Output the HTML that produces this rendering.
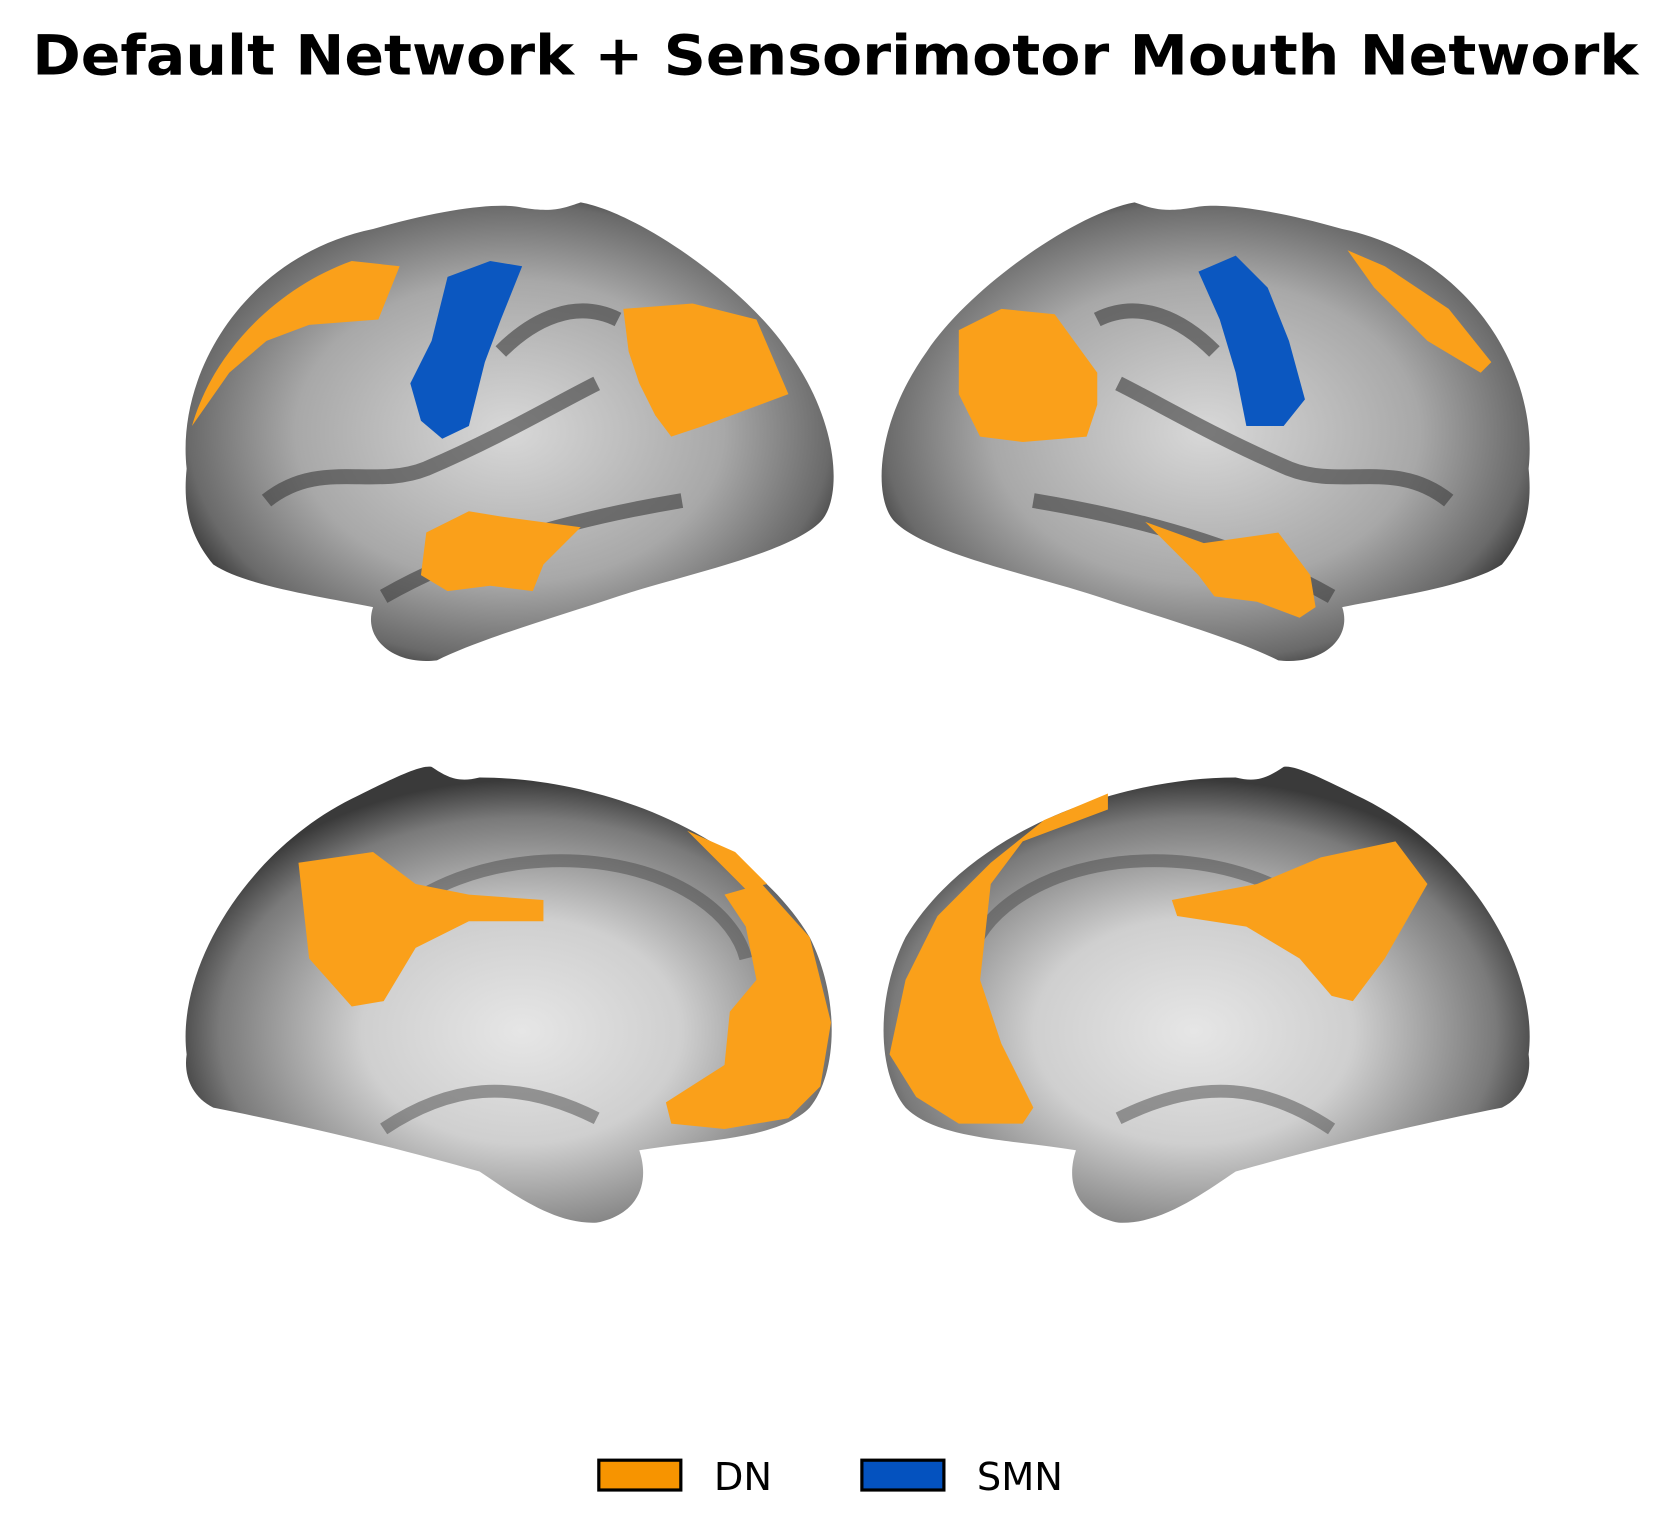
<!DOCTYPE html>
<html><head><meta charset="utf-8"><style>
html,body{margin:0;padding:0;background:#fff;}
svg{display:block;}
</style></head><body>
<svg width="1662" height="1539" viewBox="0 0 1560 1445" xmlns="http://www.w3.org/2000/svg">
<defs>
<radialGradient id="g1" cx="50%" cy="50%" r="55%">
<stop offset="0" stop-color="#d8d8d8"/><stop offset="0.6" stop-color="#a8a8a8"/><stop offset="0.9" stop-color="#6a6a6a"/><stop offset="1" stop-color="#3a3a3a"/>
</radialGradient>
<radialGradient id="g2" cx="52%" cy="58%" r="55%">
<stop offset="0" stop-color="#e6e6e6"/><stop offset="0.45" stop-color="#cfcfcf"/><stop offset="0.85" stop-color="#7a7a7a"/><stop offset="1" stop-color="#3a3a3a"/>
</radialGradient>
</defs>
<text x="30" y="70" textLength="1508" lengthAdjust="spacingAndGlyphs" font-family="DejaVu Sans, Liberation Sans, sans-serif" font-weight="bold" font-size="52">Default Network + Sensorimotor Mouth Network</text>

<g>
<path id="latL" d="M175,440 C165,350 230,240 350,215 C420,195 470,190 490,195 C520,200 530,195 545,190 C600,200 700,270 740,330 C790,400 790,470 770,490 C740,520 640,540 580,560 C520,580 450,600 410,620 C370,625 340,600 350,570 C300,560 230,550 200,530 C175,500 172,470 175,440 Z" fill="url(#g1)"/>
<path d="M250,470 C300,430 350,460 400,440 C470,410 520,380 560,360 M360,560 C430,520 520,490 640,470 M470,330 C500,300 540,280 580,300" stroke="#3a3a3a" stroke-width="14" fill="none" opacity="0.6"/>
<path d="M180,400 C200,330 260,270 330,245 L375,250 L355,300 L290,305 L250,320 L215,350 Z" fill="#faa01a"/>
<path d="M420,260 L460,245 L490,250 L470,300 L455,340 L440,400 L415,412 L395,395 L385,360 L405,320 Z" fill="#0b57c0"/>
<path d="M585,290 L650,285 L710,300 L740,370 L700,385 L660,400 L630,410 L615,390 L600,360 L590,330 Z" fill="#faa01a"/>
<path d="M400,500 L440,480 L470,485 L545,495 L510,530 L500,555 L460,550 L420,555 L395,540 Z" fill="#faa01a"/>
</g>

<g>
<use href="#latL" transform="translate(1610,0) scale(-1,1)"/>
<path d="M1360,470 C1310,430 1260,460 1210,440 C1140,410 1090,380 1050,360 M1250,560 C1180,520 1090,490 970,470 M1140,330 C1110,300 1070,280 1030,300" stroke="#3a3a3a" stroke-width="14" fill="none" opacity="0.6"/>
<path d="M900,310 L940,290 L990,295 L1030,350 L1030,380 L1020,410 L960,415 L920,410 L900,370 Z" fill="#faa01a"/>
<path d="M1125,255 L1160,240 L1190,270 L1210,320 L1225,375 L1205,400 L1170,400 L1160,350 L1145,300 Z" fill="#0b57c0"/>
<path d="M1265,235 L1300,250 L1360,290 L1400,340 L1390,350 L1340,320 L1290,270 Z" fill="#faa01a"/>
<path d="M1075,490 L1130,510 L1200,500 L1230,540 L1235,570 L1220,580 L1180,565 L1140,560 L1125,540 Z" fill="#faa01a"/>
</g>

<g>
<path id="medL" d="M175,990 C165,910 230,800 330,750 C370,730 395,718 405,720 C420,730 430,735 450,730 C560,730 700,780 760,880 C790,940 785,1010 760,1040 C730,1070 660,1070 600,1080 C610,1110 600,1140 560,1148 C520,1150 480,1120 450,1100 C380,1080 300,1060 200,1040 C180,1030 172,1010 175,990 Z" fill="url(#g2)"/>
<path d="M330,900 C380,830 470,800 560,810 C640,820 690,860 700,900 M360,1060 C420,1020 480,1010 560,1050" stroke="#4a4a4a" stroke-width="12" fill="none" opacity="0.5"/>
<path d="M280,810 L350,800 L390,830 L440,840 L510,845 L510,865 L440,865 L390,890 L360,940 L330,945 L290,900 Z" fill="#faa01a"/>
<path d="M680,840 L715,830 L760,880 L780,960 L770,1020 L740,1050 L680,1060 L630,1055 L625,1035 L680,1000 L685,950 L710,920 L700,870 Z" fill="#faa01a"/>
<path d="M645,780 L690,800 L720,830 L700,835 Z" fill="#faa01a"/>
</g>

<g>
<use href="#medL" transform="translate(1610,0) scale(-1,1)"/>
<path d="M1280,900 C1230,830 1140,800 1050,810 C970,820 920,860 910,900 M1250,1060 C1190,1020 1130,1010 1050,1050" stroke="#4a4a4a" stroke-width="12" fill="none" opacity="0.5"/>
<path d="M850,920 L880,860 L930,810 L980,770 L1040,745 L1040,760 L960,790 L930,830 L920,920 L940,980 L970,1040 L960,1055 L900,1055 L860,1030 L835,990 Z" fill="#faa01a"/>
<path d="M1240,805 L1310,790 L1340,830 L1300,900 L1270,940 L1250,935 L1220,900 L1170,870 L1105,860 L1100,845 L1180,830 Z" fill="#faa01a"/>
</g>

<g>
<g>
<rect x="562" y="1371" width="77" height="28" fill="#f79400" stroke="#000" stroke-width="3"/>
<text x="670" y="1399" font-family="DejaVu Sans, Liberation Sans, sans-serif" font-size="36">DN</text>
</g>
<g>
<rect x="809" y="1371" width="77" height="28" fill="#0452bf" stroke="#000" stroke-width="3"/>
<text x="917" y="1399" font-family="DejaVu Sans, Liberation Sans, sans-serif" font-size="36">SMN</text>
</g>
</g>
</svg>
</body></html>
